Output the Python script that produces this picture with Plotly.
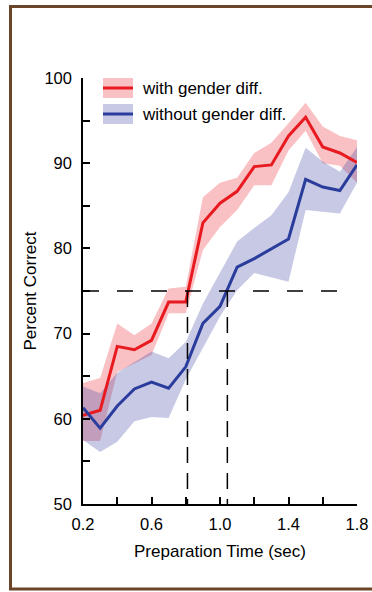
import plotly.graph_objects as go

# ---- data ----
prep_time = [0.2, 0.3, 0.4, 0.5, 0.6, 0.7, 0.8, 0.9, 1.0, 1.1, 1.2, 1.3, 1.4, 1.5, 1.6, 1.7, 1.8]

with_mean  = [60.4, 61.0, 68.5, 68.1, 69.2, 73.7, 73.7, 83.0, 85.3, 86.7, 89.6, 89.8, 93.2, 95.4, 91.9, 91.2, 90.1]
with_upper = [64.2, 64.8, 71.2, 69.8, 71.2, 75.3, 75.5, 86.0, 87.7, 88.3, 91.2, 92.4, 94.7, 97.1, 94.3, 93.2, 92.7]
with_lower = [57.4, 57.4, 65.5, 66.5, 67.5, 72.4, 72.4, 79.8, 82.5, 84.5, 87.4, 87.4, 91.5, 93.8, 90.0, 89.7, 87.7]

without_mean  = [61.3, 58.9, 61.5, 63.5, 64.3, 63.6, 66.1, 71.2, 73.2, 77.8, 78.8, 80.0, 81.1, 88.1, 87.2, 86.8, 89.8]
without_upper = [63.8, 63.0, 65.4, 66.7, 67.9, 67.1, 69.0, 73.5, 77.2, 80.8, 82.4, 83.9, 86.6, 91.8, 90.2, 89.0, 91.9]
without_lower = [57.5, 56.1, 57.3, 59.7, 60.2, 60.1, 64.6, 68.3, 72.0, 75.1, 77.1, 76.6, 76.1, 84.5, 84.3, 84.1, 87.7]

series_names = ["with gender diff.", "without gender diff."]

criterion = 75
threshold_times = [0.81, 1.043]

x_tick_vals = [0.2, 0.4, 0.6, 0.8, 1.0, 1.2, 1.4, 1.6, 1.8]
x_tick_text = ["0.2", "", "0.6", "", "1.0", "", "1.4", "", "1.8"]
y_tick_vals = [50, 55, 60, 65, 70, 75, 80, 85, 90, 95, 100]
y_tick_text = ["50", "", "60", "", "70", "", "80", "", "90", "", "100"]

RED = "#e8191f"
BLUE = "#2b3d9c"
RED_FILL = "rgba(235,50,60,0.30)"
BLUE_FILL = "rgba(70,75,170,0.30)"
FONT = "Liberation Sans, Arial, sans-serif"

fig = go.Figure()

def band(lower, upper, color):
    return go.Scatter(
        x=prep_time + prep_time[::-1],
        y=upper + lower[::-1],
        fill="toself", fillcolor=color, line=dict(width=0),
        mode="lines", hoverinfo="skip", showlegend=False,
    )

fig.add_trace(band(with_lower, with_upper, RED_FILL))
fig.add_trace(band(without_lower, without_upper, BLUE_FILL))
fig.add_trace(go.Scatter(x=prep_time, y=with_mean, mode="lines",
                         line=dict(color=RED, width=3), name=series_names[0], showlegend=False))
fig.add_trace(go.Scatter(x=prep_time, y=without_mean, mode="lines",
                         line=dict(color=BLUE, width=3), name=series_names[1], showlegend=False))

shapes = []
# criterion dashed lines
shapes.append(dict(type="line", xref="x", yref="y", x0=0.2, x1=1.72, y0=criterion, y1=criterion,
                   line=dict(color="black", width=1.5, dash="16px,18px"), layer="above"))
for t in threshold_times:
    shapes.append(dict(type="line", xref="x", yref="y", x0=t, x1=t, y0=criterion, y1=50,
                       line=dict(color="black", width=1.5, dash="16px,10px"), layer="above"))

# legend swatches (paper coords relative to plot area)
def px_x(p):
    return (p - 83) / 274.0

def px_y(p):
    return (504 - p) / 426.0

legend_items = [(series_names[0], RED, RED_FILL, 88), (series_names[1], BLUE, BLUE_FILL, 114)]
annotations = []
for name, lc, fc, yc in legend_items:
    shapes.append(dict(type="rect", xref="paper", yref="paper",
                       x0=px_x(103), x1=px_x(133), y0=px_y(yc + 10), y1=px_y(yc - 10),
                       fillcolor=fc, line=dict(width=0)))
    shapes.append(dict(type="line", xref="paper", yref="paper",
                       x0=px_x(103), x1=px_x(133), y0=px_y(yc), y1=px_y(yc),
                       line=dict(color=lc, width=3)))
    annotations.append(dict(text=name, xref="paper", yref="paper", x=px_x(140), y=px_y(yc),
                            xanchor="left", yanchor="middle", showarrow=False,
                            font=dict(size=17, color="black", family=FONT)))

# brown frame
shapes.append(dict(type="rect", xref="paper", yref="paper",
                   x0=px_x(10.5), x1=px_x(380), y0=px_y(589), y1=px_y(6.5),
                   line=dict(color="#6b4429", width=3), fillcolor="rgba(0,0,0,0)"))

fig.update_layout(
    width=372, height=592, autosize=False,
    margin=dict(l=83, r=15, t=78, b=88, autoexpand=False),
    paper_bgcolor="white", plot_bgcolor="white",
    font=dict(family=FONT, size=16, color="black"),
    shapes=shapes, annotations=annotations,
    showlegend=False,
    xaxis=dict(range=[0.2, 1.8], tickvals=x_tick_vals, ticktext=x_tick_text,
               ticks="inside", ticklen=7, tickwidth=1.5, tickcolor="black",
               showline=True, linecolor="black", linewidth=1.5,
               showgrid=False, zeroline=False, automargin=False,
               tickfont=dict(size=16.5), ticklabelstandoff=4,
               title=dict(text="Preparation Time (sec)", font=dict(size=17), standoff=14)),
    yaxis=dict(range=[50, 100], tickvals=y_tick_vals, ticktext=y_tick_text,
               ticks="inside", ticklen=7, tickwidth=1.5, tickcolor="black",
               showline=True, linecolor="black", linewidth=1.5,
               showgrid=False, zeroline=False, automargin=False,
               tickfont=dict(size=16.5), ticklabelstandoff=6,
               title=dict(text="Percent Correct", font=dict(size=17), standoff=3)),
)

fig.write_html(
    "out.html",
    config={"displayModeBar": False, "responsive": False},
    post_script="document.body.style.margin='0px';document.body.style.overflow='hidden';",
)
